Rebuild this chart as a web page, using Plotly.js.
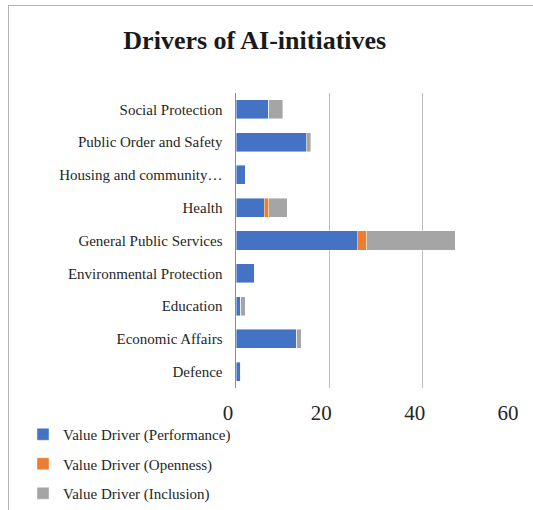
<!DOCTYPE html>
<html>
<head>
<meta charset="utf-8">
<script src="https://cdn.plot.ly/plotly-3.0.1.min.js"></script>
<style>
  html, body { margin: 0; padding: 0; background: #fff; }
  #wrap { position: relative; width: 533px; height: 510px; }
  #chart { width: 533px; height: 510px; }
  #frame { position: absolute; left: 8px; top: 5px; right: 0; bottom: 0;
           border-left: 1.5px solid #b4b4b4; border-top: 1.5px solid #b4b4b4; pointer-events: none; }
</style>
</head>
<body>
<div id="wrap">
  <div id="chart"></div>
  <div id="frame"></div>
</div>
<script>
const categories = [
  "Defence",
  "Economic Affairs",
  "Education",
  "Environmental Protection",
  "General Public Services",
  "Health",
  "Housing and community…",
  "Public Order and Safety",
  "Social Protection"
];
const performance = [1, 13, 1, 4, 26, 6, 2, 15, 7];
const openness    = [0, 0, 0, 0, 2, 1, 0, 0, 0];
const inclusion   = [0, 1, 1, 0, 19, 4, 0, 1, 3];
const seriesNames = ["Value Driver (Performance)", "Value Driver (Openness)", "Value Driver (Inclusion)"];
const seriesColors = ["#4472C4", "#ED7D31", "#A5A5A5"];
const xTicks = [0, 20, 40, 60];

const FONT = "Liberation Serif";

const seriesData = [performance, openness, inclusion];
const traces = seriesData.map((vals, i) => ({
  type: "bar",
  orientation: "h",
  y: categories,
  x: vals,
  name: seriesNames[i],
  legendgroup: "g" + i,
  marker: { color: seriesColors[i], line: { color: "rgba(255,255,255,0.6)", width: 0.7 } },
  hoverinfo: "x+y+name"
}));

const layout = {
  width: 533,
  height: 510,
  paper_bgcolor: "#ffffff",
  plot_bgcolor: "#ffffff",
  barmode: "stack",
  bargap: 0.42,
  margin: { l: 235, r: 17, t: 93, b: 122 },
  font: { family: FONT, color: "#262626" },
  title: {
    text: "<b>Drivers of AI-initiatives</b>",
    font: { family: FONT, size: 26, color: "#1a1a1a" },
    x: 0.478, xref: "container", xanchor: "center",
    y: 0.922, yref: "container", yanchor: "middle"
  },
  xaxis: {
    range: [0, 60],
    tickvals: xTicks,
    ticktext: xTicks.map(String),
    showgrid: true,
    gridcolor: "#bdbdbd",
    gridwidth: 1.5,
    zeroline: false,
    showline: false,
    ticks: "",
    tickfont: { family: FONT, size: 21, color: "#262626" },
    ticklabelshift: -8,
    ticklabelstandoff: 10,
    fixedrange: true
  },
  yaxis: {
    categoryorder: "array",
    categoryarray: categories,
    showgrid: false,
    zeroline: false,
    showline: true,
    linecolor: "#8c8c8c",
    linewidth: 1.5,
    ticks: "",
    tickfont: { family: FONT, size: 15, color: "#262626" },
    ticklabelstandoff: 9,
    fixedrange: true
  },
  showlegend: true,
  legend: {
    orientation: "v",
    traceorder: "grouped",
    tracegroupgap: 7,
    x: 23 / 533, xref: "container", xanchor: "left",
    y: -0.165, yanchor: "top",
    font: { family: FONT, size: 15, color: "#262626" },
    itemwidth: 30,
    bgcolor: "rgba(0,0,0,0)"
  }
};

Plotly.newPlot("chart", traces, layout, { displayModeBar: false, staticPlot: true });
</script>
</body>
</html>
